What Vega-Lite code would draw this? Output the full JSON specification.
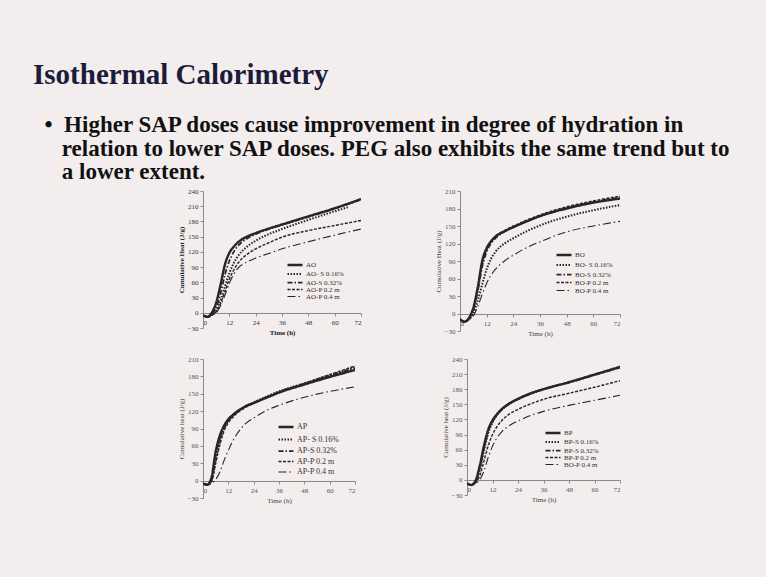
{
  "$schema": "https://vega.github.io/schema/vega-lite/v6.json",
  "background": "#f3eded",
  "padding": {"left": 33, "top": 61, "right": 36, "bottom": 74},
  "title": {
    "text": "Isothermal Calorimetry",
    "subtitle": [
      "\u200b\u00a0\u00a0•\u00a0\u00a0Higher SAP doses cause improvement in degree of hydration in",
      "\u200b\u00a0\u00a0\u00a0\u00a0\u00a0relation to lower SAP doses. PEG also exhibits the same trend but to",
      "\u200b\u00a0\u00a0\u00a0\u00a0\u00a0a lower extent."
    ],
    "anchor": "start",
    "frame": "bounds",
    "dx": -144,
    "offset": 3,
    "font": "Liberation Serif",
    "fontSize": 29,
    "fontWeight": "bold",
    "color": "#1c1c3a",
    "subtitleFont": "Liberation Serif",
    "subtitleFontSize": 23,
    "subtitleFontWeight": "bold",
    "subtitleColor": "#111111",
    "subtitleLineHeight": 23.5,
    "subtitlePadding": 24
  },
  "datasets": {
    "ao": [
      {"s":"AO","t":0,"v":-5},{"s":"AO","t":2,"v":-8},{"s":"AO","t":4,"v":0},{"s":"AO","t":6,"v":20},{"s":"AO","t":8,"v":55},{"s":"AO","t":10,"v":95},{"s":"AO","t":12,"v":118},{"s":"AO","t":14,"v":130},{"s":"AO","t":16,"v":139},{"s":"AO","t":20,"v":150},{"s":"AO","t":24,"v":157},{"s":"AO","t":30,"v":166},{"s":"AO","t":36,"v":174},{"s":"AO","t":48,"v":190},{"s":"AO","t":60,"v":206},{"s":"AO","t":72,"v":224},
      {"s":"AO- S 0.16%","t":0,"v":-5},{"s":"AO- S 0.16%","t":2,"v":-8},{"s":"AO- S 0.16%","t":4,"v":-4},{"s":"AO- S 0.16%","t":6,"v":5},{"s":"AO- S 0.16%","t":8,"v":25},{"s":"AO- S 0.16%","t":10,"v":52},{"s":"AO- S 0.16%","t":12,"v":78},{"s":"AO- S 0.16%","t":14,"v":98},{"s":"AO- S 0.16%","t":16,"v":112},{"s":"AO- S 0.16%","t":20,"v":130},{"s":"AO- S 0.16%","t":24,"v":142},{"s":"AO- S 0.16%","t":30,"v":155},{"s":"AO- S 0.16%","t":36,"v":165},{"s":"AO- S 0.16%","t":48,"v":183},{"s":"AO- S 0.16%","t":60,"v":200},{"s":"AO- S 0.16%","t":66,"v":208},
      {"s":"AO-S 0.32%","t":0,"v":-5},{"s":"AO-S 0.32%","t":2,"v":-8},{"s":"AO-S 0.32%","t":4,"v":-3},{"s":"AO-S 0.32%","t":6,"v":10},{"s":"AO-S 0.32%","t":8,"v":38},{"s":"AO-S 0.32%","t":10,"v":75},{"s":"AO-S 0.32%","t":12,"v":102},{"s":"AO-S 0.32%","t":14,"v":120},{"s":"AO-S 0.32%","t":16,"v":132},{"s":"AO-S 0.32%","t":20,"v":146},{"s":"AO-S 0.32%","t":24,"v":155},{"s":"AO-S 0.32%","t":30,"v":165},{"s":"AO-S 0.32%","t":36,"v":173},{"s":"AO-S 0.32%","t":48,"v":189},{"s":"AO-S 0.32%","t":60,"v":205},{"s":"AO-S 0.32%","t":72,"v":223},
      {"s":"AO-P 0.2 m","t":0,"v":-5},{"s":"AO-P 0.2 m","t":2,"v":-8},{"s":"AO-P 0.2 m","t":4,"v":-5},{"s":"AO-P 0.2 m","t":6,"v":2},{"s":"AO-P 0.2 m","t":8,"v":18},{"s":"AO-P 0.2 m","t":10,"v":42},{"s":"AO-P 0.2 m","t":12,"v":66},{"s":"AO-P 0.2 m","t":14,"v":84},{"s":"AO-P 0.2 m","t":16,"v":98},{"s":"AO-P 0.2 m","t":20,"v":115},{"s":"AO-P 0.2 m","t":24,"v":126},{"s":"AO-P 0.2 m","t":30,"v":138},{"s":"AO-P 0.2 m","t":36,"v":149},{"s":"AO-P 0.2 m","t":48,"v":162},{"s":"AO-P 0.2 m","t":60,"v":172},{"s":"AO-P 0.2 m","t":72,"v":182},
      {"s":"AO-P 0.4 m","t":0,"v":-5},{"s":"AO-P 0.4 m","t":2,"v":-8},{"s":"AO-P 0.4 m","t":4,"v":-5},{"s":"AO-P 0.4 m","t":6,"v":0},{"s":"AO-P 0.4 m","t":8,"v":14},{"s":"AO-P 0.4 m","t":10,"v":35},{"s":"AO-P 0.4 m","t":12,"v":58},{"s":"AO-P 0.4 m","t":14,"v":76},{"s":"AO-P 0.4 m","t":16,"v":88},{"s":"AO-P 0.4 m","t":20,"v":100},{"s":"AO-P 0.4 m","t":24,"v":108},{"s":"AO-P 0.4 m","t":30,"v":117},{"s":"AO-P 0.4 m","t":36,"v":126},{"s":"AO-P 0.4 m","t":48,"v":140},{"s":"AO-P 0.4 m","t":60,"v":153},{"s":"AO-P 0.4 m","t":72,"v":165}
    ],
    "bo": [
      {"s":"BO","t":0,"v":-10},{"s":"BO","t":2,"v":-14},{"s":"BO","t":4,"v":-8},{"s":"BO","t":6,"v":10},{"s":"BO","t":8,"v":45},{"s":"BO","t":10,"v":90},{"s":"BO","t":12,"v":112},{"s":"BO","t":14,"v":124},{"s":"BO","t":16,"v":132},{"s":"BO","t":20,"v":141},{"s":"BO","t":24,"v":148},{"s":"BO","t":30,"v":158},{"s":"BO","t":36,"v":167},{"s":"BO","t":48,"v":180},{"s":"BO","t":60,"v":190},{"s":"BO","t":72,"v":197},
      {"s":"BO- S 0.16%","t":0,"v":-10},{"s":"BO- S 0.16%","t":2,"v":-14},{"s":"BO- S 0.16%","t":4,"v":-10},{"s":"BO- S 0.16%","t":6,"v":0},{"s":"BO- S 0.16%","t":8,"v":22},{"s":"BO- S 0.16%","t":10,"v":50},{"s":"BO- S 0.16%","t":12,"v":76},{"s":"BO- S 0.16%","t":14,"v":94},{"s":"BO- S 0.16%","t":16,"v":106},{"s":"BO- S 0.16%","t":20,"v":120},{"s":"BO- S 0.16%","t":24,"v":129},{"s":"BO- S 0.16%","t":30,"v":141},{"s":"BO- S 0.16%","t":36,"v":151},{"s":"BO- S 0.16%","t":48,"v":166},{"s":"BO- S 0.16%","t":60,"v":177},{"s":"BO- S 0.16%","t":72,"v":186},
      {"s":"BO-S 0.32%","t":0,"v":-10},{"s":"BO-S 0.32%","t":2,"v":-14},{"s":"BO-S 0.32%","t":4,"v":-9},{"s":"BO-S 0.32%","t":6,"v":6},{"s":"BO-S 0.32%","t":8,"v":38},{"s":"BO-S 0.32%","t":10,"v":80},{"s":"BO-S 0.32%","t":12,"v":106},{"s":"BO-S 0.32%","t":14,"v":120},{"s":"BO-S 0.32%","t":16,"v":129},{"s":"BO-S 0.32%","t":20,"v":140},{"s":"BO-S 0.32%","t":24,"v":148},{"s":"BO-S 0.32%","t":30,"v":158},{"s":"BO-S 0.32%","t":36,"v":167},{"s":"BO-S 0.32%","t":48,"v":181},{"s":"BO-S 0.32%","t":60,"v":191},{"s":"BO-S 0.32%","t":72,"v":199},
      {"s":"BO-P 0.2 m","t":0,"v":-10},{"s":"BO-P 0.2 m","t":2,"v":-14},{"s":"BO-P 0.2 m","t":4,"v":-8},{"s":"BO-P 0.2 m","t":6,"v":8},{"s":"BO-P 0.2 m","t":8,"v":42},{"s":"BO-P 0.2 m","t":10,"v":86},{"s":"BO-P 0.2 m","t":12,"v":110},{"s":"BO-P 0.2 m","t":14,"v":123},{"s":"BO-P 0.2 m","t":16,"v":132},{"s":"BO-P 0.2 m","t":20,"v":142},{"s":"BO-P 0.2 m","t":24,"v":150},{"s":"BO-P 0.2 m","t":30,"v":160},{"s":"BO-P 0.2 m","t":36,"v":169},{"s":"BO-P 0.2 m","t":48,"v":183},{"s":"BO-P 0.2 m","t":60,"v":193},{"s":"BO-P 0.2 m","t":72,"v":201},
      {"s":"BO-P 0.4 m","t":0,"v":-10},{"s":"BO-P 0.4 m","t":2,"v":-14},{"s":"BO-P 0.4 m","t":4,"v":-11},{"s":"BO-P 0.4 m","t":6,"v":-4},{"s":"BO-P 0.4 m","t":8,"v":12},{"s":"BO-P 0.4 m","t":10,"v":33},{"s":"BO-P 0.4 m","t":12,"v":52},{"s":"BO-P 0.4 m","t":14,"v":66},{"s":"BO-P 0.4 m","t":16,"v":76},{"s":"BO-P 0.4 m","t":20,"v":90},{"s":"BO-P 0.4 m","t":24,"v":100},{"s":"BO-P 0.4 m","t":30,"v":113},{"s":"BO-P 0.4 m","t":36,"v":123},{"s":"BO-P 0.4 m","t":48,"v":140},{"s":"BO-P 0.4 m","t":60,"v":150},{"s":"BO-P 0.4 m","t":72,"v":158}
    ],
    "ap": [
      {"s":"AP","t":0,"v":-5},{"s":"AP","t":2,"v":-7},{"s":"AP","t":4,"v":5},{"s":"AP","t":6,"v":50},{"s":"AP","t":8,"v":78},{"s":"AP","t":10,"v":95},{"s":"AP","t":12,"v":106},{"s":"AP","t":14,"v":113},{"s":"AP","t":16,"v":119},{"s":"AP","t":20,"v":128},{"s":"AP","t":24,"v":134},{"s":"AP","t":30,"v":143},{"s":"AP","t":36,"v":152},{"s":"AP","t":48,"v":166},{"s":"AP","t":60,"v":179},{"s":"AP","t":72,"v":191},
      {"s":"AP- S 0.16%","t":0,"v":-5},{"s":"AP- S 0.16%","t":2,"v":-7},{"s":"AP- S 0.16%","t":4,"v":0},{"s":"AP- S 0.16%","t":6,"v":35},{"s":"AP- S 0.16%","t":8,"v":68},{"s":"AP- S 0.16%","t":10,"v":90},{"s":"AP- S 0.16%","t":12,"v":103},{"s":"AP- S 0.16%","t":14,"v":111},{"s":"AP- S 0.16%","t":16,"v":118},{"s":"AP- S 0.16%","t":20,"v":128},{"s":"AP- S 0.16%","t":24,"v":135},{"s":"AP- S 0.16%","t":30,"v":145},{"s":"AP- S 0.16%","t":36,"v":154},{"s":"AP- S 0.16%","t":48,"v":168},{"s":"AP- S 0.16%","t":60,"v":182},{"s":"AP- S 0.16%","t":72,"v":196},
      {"s":"AP-S 0.32%","t":0,"v":-5},{"s":"AP-S 0.32%","t":2,"v":-7},{"s":"AP-S 0.32%","t":4,"v":2},{"s":"AP-S 0.32%","t":6,"v":42},{"s":"AP-S 0.32%","t":8,"v":73},{"s":"AP-S 0.32%","t":10,"v":92},{"s":"AP-S 0.32%","t":12,"v":104},{"s":"AP-S 0.32%","t":14,"v":112},{"s":"AP-S 0.32%","t":16,"v":118},{"s":"AP-S 0.32%","t":20,"v":128},{"s":"AP-S 0.32%","t":24,"v":135},{"s":"AP-S 0.32%","t":30,"v":144},{"s":"AP-S 0.32%","t":36,"v":153},{"s":"AP-S 0.32%","t":48,"v":167},{"s":"AP-S 0.32%","t":60,"v":181},{"s":"AP-S 0.32%","t":72,"v":194},
      {"s":"AP-P 0.2 m","t":0,"v":-5},{"s":"AP-P 0.2 m","t":2,"v":-7},{"s":"AP-P 0.2 m","t":4,"v":-2},{"s":"AP-P 0.2 m","t":6,"v":30},{"s":"AP-P 0.2 m","t":8,"v":62},{"s":"AP-P 0.2 m","t":10,"v":86},{"s":"AP-P 0.2 m","t":12,"v":100},{"s":"AP-P 0.2 m","t":14,"v":109},{"s":"AP-P 0.2 m","t":16,"v":116},{"s":"AP-P 0.2 m","t":20,"v":126},{"s":"AP-P 0.2 m","t":24,"v":134},{"s":"AP-P 0.2 m","t":30,"v":144},{"s":"AP-P 0.2 m","t":36,"v":153},{"s":"AP-P 0.2 m","t":48,"v":168},{"s":"AP-P 0.2 m","t":60,"v":183},{"s":"AP-P 0.2 m","t":72,"v":198},
      {"s":"AP-P 0.4 m","t":0,"v":-5},{"s":"AP-P 0.4 m","t":2,"v":-7},{"s":"AP-P 0.4 m","t":4,"v":-5},{"s":"AP-P 0.4 m","t":6,"v":2},{"s":"AP-P 0.4 m","t":8,"v":15},{"s":"AP-P 0.4 m","t":10,"v":35},{"s":"AP-P 0.4 m","t":12,"v":52},{"s":"AP-P 0.4 m","t":14,"v":68},{"s":"AP-P 0.4 m","t":16,"v":80},{"s":"AP-P 0.4 m","t":20,"v":98},{"s":"AP-P 0.4 m","t":24,"v":108},{"s":"AP-P 0.4 m","t":30,"v":121},{"s":"AP-P 0.4 m","t":36,"v":130},{"s":"AP-P 0.4 m","t":48,"v":144},{"s":"AP-P 0.4 m","t":60,"v":154},{"s":"AP-P 0.4 m","t":72,"v":162}
    ],
    "bp": [
      {"s":"BP","t":0,"v":-7},{"s":"BP","t":2,"v":-10},{"s":"BP","t":4,"v":-2},{"s":"BP","t":6,"v":28},{"s":"BP","t":8,"v":68},{"s":"BP","t":10,"v":100},{"s":"BP","t":12,"v":118},{"s":"BP","t":14,"v":130},{"s":"BP","t":16,"v":139},{"s":"BP","t":20,"v":152},{"s":"BP","t":24,"v":161},{"s":"BP","t":30,"v":172},{"s":"BP","t":36,"v":180},{"s":"BP","t":48,"v":194},{"s":"BP","t":60,"v":209},{"s":"BP","t":72,"v":224},
      {"s":"BP-S 0.16%","t":0,"v":-7},{"s":"BP-S 0.16%","t":2,"v":-10},{"s":"BP-S 0.16%","t":4,"v":-4},{"s":"BP-S 0.16%","t":6,"v":20},{"s":"BP-S 0.16%","t":8,"v":58},{"s":"BP-S 0.16%","t":10,"v":93},{"s":"BP-S 0.16%","t":12,"v":114},{"s":"BP-S 0.16%","t":14,"v":128},{"s":"BP-S 0.16%","t":16,"v":138},{"s":"BP-S 0.16%","t":20,"v":151},{"s":"BP-S 0.16%","t":24,"v":160},{"s":"BP-S 0.16%","t":30,"v":171},{"s":"BP-S 0.16%","t":36,"v":180},{"s":"BP-S 0.16%","t":48,"v":194},{"s":"BP-S 0.16%","t":60,"v":209},{"s":"BP-S 0.16%","t":72,"v":225},
      {"s":"BP-S 0.32%","t":0,"v":-7},{"s":"BP-S 0.32%","t":2,"v":-10},{"s":"BP-S 0.32%","t":4,"v":-3},{"s":"BP-S 0.32%","t":6,"v":24},{"s":"BP-S 0.32%","t":8,"v":63},{"s":"BP-S 0.32%","t":10,"v":97},{"s":"BP-S 0.32%","t":12,"v":116},{"s":"BP-S 0.32%","t":14,"v":129},{"s":"BP-S 0.32%","t":16,"v":138},{"s":"BP-S 0.32%","t":20,"v":151},{"s":"BP-S 0.32%","t":24,"v":160},{"s":"BP-S 0.32%","t":30,"v":171},{"s":"BP-S 0.32%","t":36,"v":180},{"s":"BP-S 0.32%","t":48,"v":193},{"s":"BP-S 0.32%","t":60,"v":208},{"s":"BP-S 0.32%","t":72,"v":223},
      {"s":"BP-P 0.2 m","t":0,"v":-7},{"s":"BP-P 0.2 m","t":2,"v":-10},{"s":"BP-P 0.2 m","t":4,"v":-6},{"s":"BP-P 0.2 m","t":6,"v":8},{"s":"BP-P 0.2 m","t":8,"v":38},{"s":"BP-P 0.2 m","t":10,"v":68},{"s":"BP-P 0.2 m","t":12,"v":90},{"s":"BP-P 0.2 m","t":14,"v":105},{"s":"BP-P 0.2 m","t":16,"v":116},{"s":"BP-P 0.2 m","t":20,"v":131},{"s":"BP-P 0.2 m","t":24,"v":140},{"s":"BP-P 0.2 m","t":30,"v":151},{"s":"BP-P 0.2 m","t":36,"v":160},{"s":"BP-P 0.2 m","t":48,"v":172},{"s":"BP-P 0.2 m","t":60,"v":184},{"s":"BP-P 0.2 m","t":72,"v":197},
      {"s":"BO-P 0.4 m","t":0,"v":-7},{"s":"BO-P 0.4 m","t":2,"v":-10},{"s":"BO-P 0.4 m","t":4,"v":-7},{"s":"BO-P 0.4 m","t":6,"v":0},{"s":"BO-P 0.4 m","t":8,"v":18},{"s":"BO-P 0.4 m","t":10,"v":45},{"s":"BO-P 0.4 m","t":12,"v":67},{"s":"BO-P 0.4 m","t":14,"v":83},{"s":"BO-P 0.4 m","t":16,"v":94},{"s":"BO-P 0.4 m","t":20,"v":108},{"s":"BO-P 0.4 m","t":24,"v":117},{"s":"BO-P 0.4 m","t":30,"v":128},{"s":"BO-P 0.4 m","t":36,"v":136},{"s":"BO-P 0.4 m","t":48,"v":148},{"s":"BO-P 0.4 m","t":60,"v":158},{"s":"BO-P 0.4 m","t":72,"v":168}
    ]
  },
  "resolve": {"scale": {"strokeDash": "independent", "strokeWidth": "independent"}, "legend": {"strokeDash": "independent", "strokeWidth": "independent"}},
  "spacing": 19,
  "vconcat": [
    {
      "resolve": {"scale": {"strokeDash": "independent", "strokeWidth": "independent"}, "legend": {"strokeDash": "independent", "strokeWidth": "independent"}},
      "spacing": 72,
      "hconcat": [
        {
          "width": 158, "height": 137,
          "data": {"name": "ao"},
          "mark": {"type": "line", "color": "#262626", "interpolate": "monotone", "clip": true},
          "encoding": {
            "x": {"field": "t", "type": "quantitative", "scale": {"domain": [0, 72], "nice": false},
                  "axis": {"values": [0, 12, 24, 36, 48, 60, 72], "title": "Time (h)", "offset": -15, "titleFontWeight": "bold", "labelColor": "#333", "titleColor": "#222"}},
            "y": {"field": "v", "type": "quantitative", "scale": {"domain": [-30, 240], "nice": false},
                  "axis": {"values": [-30, 0, 30, 60, 90, 120, 150, 180, 210, 240], "title": "Cumulative Heat (J/g)", "titleFontWeight": "bold", "labelColor": "#333", "titleColor": "#222"}},
            "strokeDash": {"field": "s", "type": "nominal",
                  "scale": {"domain": ["AO", "AO- S 0.16%", "AO-S 0.32%", "AO-P 0.2 m", "AO-P 0.4 m"], "range": [[1, 0], [1.5, 1.5], [5, 2, 1.5, 2], [3, 1.5], [8, 3, 1.5, 3]]},
                  "legend": {"orient": "none", "legendX": 88, "legendY": 70, "rowPadding": -1}},
            "strokeWidth": {"field": "s", "type": "nominal",
                  "scale": {"domain": ["AO", "AO- S 0.16%", "AO-S 0.32%", "AO-P 0.2 m", "AO-P 0.4 m"], "range": [2.4, 1.1, 1.3, 1.5, 2]},
                  "legend": {"orient": "none", "legendX": 88, "legendY": 70, "rowPadding": -1}}
          }
        },
        {
          "width": 160, "height": 140,
          "data": {"name": "bo"},
          "mark": {"type": "line", "color": "#262626", "interpolate": "monotone", "clip": true},
          "encoding": {
            "x": {"field": "t", "type": "quantitative", "scale": {"domain": [0, 72], "nice": false},
                  "axis": {"values": [0, 12, 24, 36, 48, 60, 72], "title": "Time (h)", "offset": -17}},
            "y": {"field": "v", "type": "quantitative", "scale": {"domain": [-30, 210], "nice": false},
                  "axis": {"values": [-30, 0, 30, 60, 90, 120, 150, 180, 210], "title": "Cumulative Heat (J/g)"}},
            "strokeDash": {"field": "s", "type": "nominal",
                  "scale": {"domain": ["BO", "BO- S 0.16%", "BO-S 0.32%", "BO-P 0.2 m", "BO-P 0.4 m"], "range": [[1, 0], [1.5, 1.5], [5, 2, 1.5, 2], [3, 1.5], [8, 3, 1.5, 3]]},
                  "legend": {"orient": "none", "legendX": 100, "legendY": 60, "rowPadding": 0}},
            "strokeWidth": {"field": "s", "type": "nominal",
                  "scale": {"domain": ["BO", "BO- S 0.16%", "BO-S 0.32%", "BO-P 0.2 m", "BO-P 0.4 m"], "range": [2.4, 1.1, 1.3, 1.5, 2]},
                  "legend": {"orient": "none", "legendX": 100, "legendY": 60, "rowPadding": 0}}
          }
        }
      ]
    },
    {
      "resolve": {"scale": {"strokeDash": "independent", "strokeWidth": "independent"}, "legend": {"strokeDash": "independent", "strokeWidth": "independent"}},
      "spacing": 85,
      "hconcat": [
        {
          "width": 152, "height": 139,
          "data": {"name": "ap"},
          "mark": {"type": "line", "color": "#262626", "interpolate": "monotone", "clip": true},
          "encoding": {
            "x": {"field": "t", "type": "quantitative", "scale": {"domain": [0, 72], "nice": false},
                  "axis": {"values": [0, 12, 24, 36, 48, 60, 72], "title": "Time (h)", "offset": -17}},
            "y": {"field": "v", "type": "quantitative", "scale": {"domain": [-30, 210], "nice": false},
                  "axis": {"values": [-30, 0, 30, 60, 90, 120, 150, 180, 210], "title": "Cumulative heat (J/g)"}},
            "strokeDash": {"field": "s", "type": "nominal",
                  "scale": {"domain": ["AP", "AP- S 0.16%", "AP-S 0.32%", "AP-P 0.2 m", "AP-P 0.4 m"], "range": [[1, 0], [1.5, 1.5], [5, 2, 1.5, 2], [3, 1.5], [8, 3, 1.5, 3]]},
                  "legend": {"orient": "none", "legendX": 79, "legendY": 64, "labelFontSize": 8, "rowPadding": 2.5}},
            "strokeWidth": {"field": "s", "type": "nominal",
                  "scale": {"domain": ["AP", "AP- S 0.16%", "AP-S 0.32%", "AP-P 0.2 m", "AP-P 0.4 m"], "range": [2.4, 1.1, 1.3, 1.5, 2]},
                  "legend": {"orient": "none", "legendX": 79, "legendY": 64, "labelFontSize": 8, "rowPadding": 2.5}}
          }
        },
        {
          "width": 153, "height": 136,
          "data": {"name": "bp"},
          "mark": {"type": "line", "color": "#262626", "interpolate": "monotone", "clip": true},
          "encoding": {
            "x": {"field": "t", "type": "quantitative", "scale": {"domain": [0, 72], "nice": false},
                  "axis": {"values": [0, 12, 24, 36, 48, 60, 72], "title": "Time (h)", "offset": -15}},
            "y": {"field": "v", "type": "quantitative", "scale": {"domain": [-30, 240], "nice": false},
                  "axis": {"values": [-30, 0, 30, 60, 90, 120, 150, 180, 210, 240], "title": "Cumulative heat (J/g)"}},
            "strokeDash": {"field": "s", "type": "nominal",
                  "scale": {"domain": ["BP", "BP-S 0.16%", "BP-S 0.32%", "BP-P 0.2 m", "BO-P 0.4 m"], "range": [[1, 0], [1.5, 1.5], [5, 2, 1.5, 2], [3, 1.5], [8, 3, 1.5, 3]]},
                  "legend": {"orient": "none", "legendX": 82, "legendY": 70, "rowPadding": -1}},
            "strokeWidth": {"field": "s", "type": "nominal",
                  "scale": {"domain": ["BP", "BP-S 0.16%", "BP-S 0.32%", "BP-P 0.2 m", "BO-P 0.4 m"], "range": [2.4, 1.1, 1.3, 1.5, 2]},
                  "legend": {"orient": "none", "legendX": 82, "legendY": 70, "rowPadding": -1}}
          }
        }
      ]
    }
  ],
  "config": {
    "view": {"stroke": null},
    "axis": {
      "grid": false,
      "labelFont": "Liberation Serif",
      "labelFontSize": 7,
      "labelColor": "#555555",
      "titleFont": "Liberation Serif",
      "titleFontSize": 7,
      "titleFontWeight": "normal",
      "titleColor": "#444444",
      "domainColor": "#8a8a8a",
      "tickColor": "#8a8a8a",
      "tickSize": 3,
      "labelPadding": 2,
      "titlePadding": 3
    },
    "legend": {
      "title": null,
      "symbolType": "M-3,0H3",
      "symbolSize": 25,
      "symbolStrokeColor": "#262626",
      "symbolFillColor": "transparent",
      "labelFont": "Liberation Serif",
      "labelFontSize": 7,
      "labelColor": "#333333",
      "labelLimit": 0,
      "labelOffset": 7,
      "rowPadding": 1,
      "padding": 0
    }
  }
}
